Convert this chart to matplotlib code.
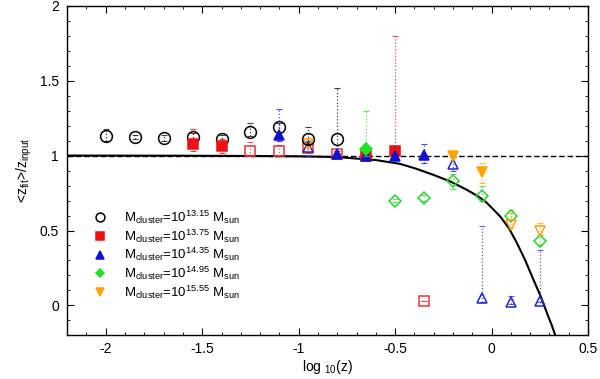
import matplotlib.pyplot as plt
import numpy as np

plt.rcParams['font.family'] = ['Liberation Sans', 'DejaVu Sans']
plt.rcParams['mathtext.fontset'] = 'custom'
plt.rcParams['mathtext.rm'] = 'Liberation Sans'
plt.rcParams['mathtext.it'] = 'Liberation Sans:italic'

# model curve, points
curve_x = [-2.2, -1.6, -1.2, -1.0, -0.8, -0.6, -0.476, -0.39, -0.303, -0.21, -0.129, -0.07, -0.025,
           0.044, 0.09, 0.131, 0.175, 0.217, 0.255, 0.287, 0.31, 0.33]
curve_y = [1.0, 0.999, 0.997, 0.995, 0.99, 0.97, 0.945, 0.912, 0.872, 0.825, 0.772, 0.728, 0.685,
           0.595, 0.515, 0.418, 0.30, 0.172, 0.06, -0.05, -0.125, -0.198]

# each mass bin: filled points and open points (x, y, lower, upper)
m1315_x = [-2.0, -1.85, -1.7, -1.55, -1.4, -1.25, -1.1, -0.95, -0.8]
m1315_y = [1.13, 1.125, 1.12, 1.125, 1.11, 1.155, 1.19, 1.11, 1.11]
m1315_lo = [1.10, 1.11, 1.10, 1.10, 1.09, 1.13, 1.16, 1.08, 1.02]
m1315_hi = [1.18, 1.14, 1.14, 1.15, 1.14, 1.22, 1.22, 1.19, 1.45]

m1375_x = [-1.55, -1.4, -0.65, -0.5]
m1375_y = [1.08, 1.065, 0.995, 1.03]
m1375_lo = [1.03, 1.02, 0.98, 1.00]
m1375_hi = [1.18, 1.11, 1.02, 1.80]
m1375o_x = [-1.25, -1.1, -0.95, -0.8, -0.35]
m1375o_y = [1.03, 1.03, 1.05, 1.01, 0.03]
m1375o_lo = [1.00, 1.00, 1.02, 1.00, 0.03]
m1375o_hi = [1.09, 1.07, 1.08, 1.02, 0.03]

m1435_x = [-1.1, -0.8, -0.65, -0.5, -0.35]
m1435_y = [1.135, 1.013, 1.0, 1.0, 1.002]
m1435_lo = [1.10, 1.00, 0.99, 0.99, 0.95]
m1435_hi = [1.31, 1.03, 1.01, 1.01, 1.08]
m1435o_x = [-0.95, -0.2, -0.05, 0.1, 0.25]
m1435o_y = [1.06, 0.945, 0.047, 0.024, 0.03]
m1435o_lo = [1.00, 0.90, 0.02, 0.01, 0.02]
m1435o_hi = [1.10, 0.99, 0.53, 0.065, 0.37]

m1495_x = [-0.65]
m1495_y = [1.047]
m1495_lo = [1.00]
m1495_hi = [1.30]
m1495o_x = [-0.5, -0.35, -0.2, -0.05, 0.1, 0.25]
m1495o_y = [0.70, 0.72, 0.83, 0.73, 0.595, 0.43]
m1495o_lo = [0.69, 0.70, 0.78, 0.70, 0.57, 0.40]
m1495o_hi = [0.71, 0.74, 0.88, 0.80, 0.64, 0.47]

m1555_x = [-0.2, -0.05]
m1555_y = [0.995, 0.887]
m1555_lo = [0.99, 0.82]
m1555_hi = [1.00, 0.95]
m1555o_x = [-0.95, 0.1, 0.25]
m1555o_y = [1.08, 0.535, 0.50]
m1555o_lo = [1.06, 0.52, 0.47]
m1555o_hi = [1.11, 0.62, 0.55]

labels = ['13.15', '13.75', '14.35', '14.95', '15.55']


def draw(ax, x, y, lo, hi, marker, color, ms, filled, label=None):
    x = np.array(x)
    y = np.array(y)
    err = [y - np.array(lo), np.array(hi) - y]
    eb = ax.errorbar(x, y, yerr=err, fmt='none', ecolor=color, elinewidth=0.9,
                     capsize=2, capthick=0.8, alpha=0.75)
    for c in eb[2]:
        c.set_linestyle(':')
    ax.plot(x, y, linestyle='none', marker=marker, ms=ms, mew=1.1,
            mec=color, mfc=color if filled else 'none', label=label)


def leg(m):
    return r'M$_{\mathregular{cluster}}$=10$^{\mathregular{%s}}$ M$_{\mathregular{sun}}$' % m


fig, ax = plt.subplots(figsize=(6, 3.79), dpi=100)
fig.subplots_adjust(left=0.112, right=0.98, top=0.985, bottom=0.115)

ax.axhline(1.0, color='black', linestyle='--', linewidth=1.0, dashes=(4, 2))
ax.plot(curve_x, curve_y, color='black', linewidth=1.5)

draw(ax, m1375o_x, m1375o_y, m1375o_lo, m1375o_hi, 's', '#e8343a', 7, False)
draw(ax, m1435o_x, m1435o_y, m1435o_lo, m1435o_hi, '^', '#2424c8', 7.5, False)
draw(ax, m1495o_x, m1495o_y, m1495o_lo, m1495o_hi, 'D', '#30d030', 6, False)
draw(ax, m1555o_x, m1555o_y, m1555o_lo, m1555o_hi, 'v', '#ffa510', 7.5, False)

draw(ax, m1315_x, m1315_y, m1315_lo, m1315_hi, 'o', 'black', 8.5, False, leg(labels[0]))
draw(ax, m1375_x, m1375_y, m1375_lo, m1375_hi, 's', '#ee1111', 7, True, leg(labels[1]))
draw(ax, m1435_x, m1435_y, m1435_lo, m1435_hi, '^', '#1010d0', 7.5, True, leg(labels[2]))
draw(ax, m1495_x, m1495_y, m1495_lo, m1495_hi, 'D', '#22e022', 6, True, leg(labels[3]))
draw(ax, m1555_x, m1555_y, m1555_lo, m1555_hi, 'v', '#ffa500', 7.5, True, leg(labels[4]))

ax.set_xlim(-2.2, 0.5)
ax.set_ylim(-0.2, 2.0)
ax.set_xticks([-2, -1.5, -1, -0.5, 0, 0.5])
ax.set_xticklabels(['-2', '-1.5', '-1', '-0.5', '0', '0.5'])
ax.set_yticks([0, 0.5, 1, 1.5, 2])
ax.set_yticklabels(['0', '0.5', '1', '1.5', '2'])
ax.set_xticks(np.arange(-2.2, 0.51, 0.1), minor=True)
ax.set_yticks(np.arange(-0.2, 2.01, 0.1), minor=True)
ax.tick_params(which='both', direction='in', top=True, right=True, labelsize=10)
ax.tick_params(axis='x', pad=5)
ax.tick_params(axis='y', pad=6)
ax.tick_params(which='major', length=5)
ax.tick_params(which='minor', length=2.5)
for s in ax.spines.values():
    s.set_linewidth(1.0)

ax.set_xlabel(r'log $_{\mathregular{10}}$(z)', fontsize=10, labelpad=1)
ax.set_ylabel(r'<z$_{\mathregular{fit}}$>/z$_{\mathregular{input}}$', fontsize=10)

ax.legend(loc='upper left', bbox_to_anchor=(0.025, 0.42), frameon=False, fontsize=9.5,
          handletextpad=1.2, labelspacing=0.1, handlelength=1.2, markerscale=0.75)

fig.savefig('out.png', dpi=100)
